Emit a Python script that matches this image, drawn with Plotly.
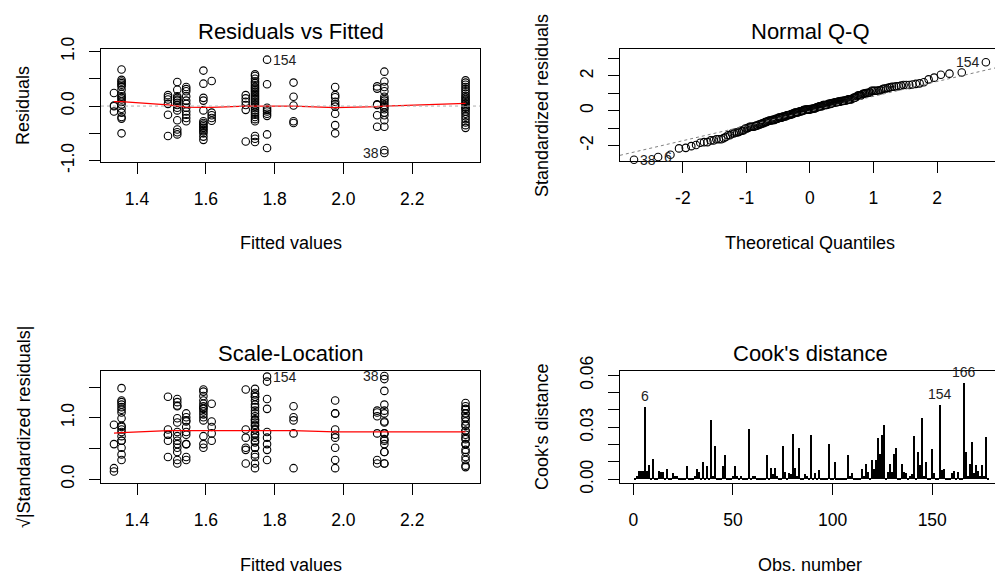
import math
from statistics import NormalDist
import plotly.graph_objects as go

W, H = 995, 575
FONT = "Liberation Sans, Arial, sans-serif"

# ---------------- data ----------------
# fitted value levels (the model has discrete fitted values)
group_fitted = [1.333, 1.355, 1.490, 1.517, 1.543, 1.593, 1.617, 1.716,
                1.743, 1.778, 1.855, 1.976, 2.098, 2.119, 2.355]

res_a = [0.24, 0.01, -0.005, -0.10]
res_b = [0.67, 0.48, 0.45, 0.42, 0.39, 0.36, 0.30, 0.22, 0.18, 0.15, 0.12,
         0.08, 0.03, -0.05, -0.12, -0.20, -0.23, -0.50]
res_c = [0.20, 0.16, 0.12, 0.04, -0.16, -0.55]
res_d = [0.44, 0.30, 0.18, 0.15, 0.12, 0.10, 0.06, 0.02, -0.03, -0.08,
         -0.26, -0.43, -0.48, -0.52]
res_e = [0.35, 0.31, 0.27, 0.18, 0.10, 0.04, -0.03, -0.10, -0.16, -0.22, -0.28]
res_f = [0.65, 0.41, 0.15, 0.10, -0.08, -0.28, -0.31, -0.34, -0.37, -0.40,
         -0.43, -0.46, -0.50, -0.56, -0.62]
res_g = [0.46, -0.12, -0.17, -0.22, -0.27]
res_h = [0.20, 0.14, 0.08, 0.02, -0.07, -0.65]
res_i = [0.58, 0.55, 0.50, 0.45, 0.42, 0.38, 0.35, 0.32, 0.29, 0.26, 0.23,
         0.20, 0.17, 0.14, 0.11, 0.08, 0.05, 0.02, -0.01, -0.04, -0.08,
         -0.12, -0.16, -0.20, -0.24, -0.28, -0.55, -0.60, -0.66]
res_j = [0.85, 0.40, -0.03, -0.07, -0.10, -0.14, -0.18, -0.52, -0.77]
res_k = [0.43, 0.17, 0.01, -0.28, -0.31]
res_l = [0.35, 0.20, 0.16, 0.08, 0.03, -0.01, -0.14, -0.35, -0.50]
res_m = [0.36, 0.32, 0.03, 0.02, -0.17, -0.38]
res_n = [0.63, 0.45, 0.35, 0.27, 0.17, 0.13, 0.10, 0.06, 0.02, -0.02, -0.06,
         -0.12, -0.17, -0.26, -0.38, -0.81, -0.86]
res_o = [0.47, 0.43, 0.39, 0.35, 0.31, 0.27, 0.23, 0.19, 0.16, 0.13, 0.10,
         0.07, 0.04, 0.015, -0.012, -0.03, -0.06, -0.10, -0.14, -0.19,
         -0.24, -0.30, -0.35, -0.40]
group_residuals = [res_a, res_b, res_c, res_d, res_e, res_f, res_g, res_h,
                   res_i, res_j, res_k, res_l, res_m, res_n, res_o]

# labelled points: (label, group index, position in group)
rvf_labels = [("154", 9, 0), ("38", 13, 16)]

sigma_hat = 0.305          # residual scale used for standardising
# smoother (red) values at each fitted level
rvf_smooth = [0.08, 0.08, 0.02, 0.0, -0.02, -0.025, -0.025, 0.0, 0.005,
              0.0, 0.0, -0.03, -0.01, 0.0, 0.05]
sl_smooth = [0.75, 0.76, 0.79, 0.79, 0.79, 0.79, 0.79, 0.79, 0.79, 0.79,
             0.79, 0.77, 0.77, 0.77, 0.77]
qq_line_intercept = -0.02
qq_line_slope = 0.85

cooks_d = [
    0.0005, 0.002, 0.005, 0.005, 0.005, 0.0417, 0.005, 0.0085, 0.001, 0.0115,
    0.001, 0.001, 0.0048, 0.004, 0.0045, 0.001, 0.006, 0.001, 0.0005, 0.0035,
    0.002, 0.002, 0.001, 0.0005, 0.0005, 0.001, 0.0077, 0.001, 0.0005, 0.001,
    0.002, 0.006, 0.004, 0.001, 0.010, 0.001, 0.0077, 0.001, 0.034, 0.002,
    0.019, 0.001, 0.001, 0.0005, 0.0077, 0.0142, 0.001, 0.001, 0.0005, 0.002,
    0.0077, 0.002, 0.001, 0.002, 0.0005, 0.0005, 0.001, 0.0289, 0.0005, 0.002,
    0.002, 0.0005, 0.001, 0.0005, 0.0005, 0.001, 0.0142, 0.001, 0.0068, 0.003,
    0.0068, 0.002, 0.001, 0.0005, 0.019, 0.004, 0.001, 0.0035, 0.003, 0.0263,
    0.0068, 0.002, 0.018, 0.001, 0.001, 0.003, 0.002, 0.001, 0.0257, 0.001,
    0.0035, 0.001, 0.0052, 0.001, 0.001, 0.0005, 0.001, 0.0206, 0.001, 0.0005,
    0.0100, 0.001, 0.001, 0.0005, 0.001, 0.001, 0.0005, 0.0142, 0.002, 0.0035,
    0.001, 0.001, 0.0005, 0.001, 0.006, 0.002, 0.0087, 0.004, 0.001, 0.0113,
    0.006, 0.011, 0.0239, 0.0148, 0.0254, 0.0312, 0.001, 0.004, 0.0087, 0.004,
    0.0148, 0.018, 0.001, 0.001, 0.009, 0.004, 0.0035, 0.001, 0.002, 0.003,
    0.0248, 0.001, 0.0155, 0.008, 0.0356, 0.002, 0.010, 0.001, 0.001, 0.0173,
    0.0035, 0.001, 0.001, 0.0427, 0.0055, 0.006, 0.001, 0.001, 0.0005, 0.0035,
    0.0048, 0.001, 0.004, 0.001, 0.001, 0.0558, 0.0155, 0.002, 0.0087, 0.0215,
    0.0035, 0.0085, 0.0048, 0.002, 0.008, 0.002, 0.0244, 0.001,
]

# ---------------- derived quantities ----------------
fitted, resid = [], []
for f, rs in zip(group_fitted, group_residuals):
    for r in rs:
        fitted.append(f)
        resid.append(r)
n = len(resid)
std_res = [r / sigma_hat for r in resid]
sl_y = [math.sqrt(abs(s)) for s in std_res]
order = sorted(range(n), key=lambda i: std_res[i])
qq_y = [std_res[i] for i in order]
nd = NormalDist()
qq_x = [nd.inv_cdf((k + 0.5) / n) for k in range(n)]
obs = list(range(1, len(cooks_d) + 1))


def px(x):
    return x / W


def py(y):
    return 1 - y / H


# panel boxes in pixels
TL = dict(x0=101, x1=480, y0=49.3, y1=161.7)
TR = dict(x0=620, x1=995, y0=49.3, y1=160.7)
BL = dict(x0=101, x1=480, y0=371, y1=483.3)
BR = dict(x0=620, x1=995, y0=371, y1=483.3)

fig = go.Figure()

marker = dict(symbol="circle-open", size=7.5, color="black", line=dict(width=1.1, color="black"))

# Residuals vs Fitted
fig.add_trace(go.Scatter(x=fitted, y=resid, mode="markers", marker=marker,
                         xaxis="x", yaxis="y", cliponaxis=False, showlegend=False))
fig.add_trace(go.Scatter(x=group_fitted, y=rvf_smooth, mode="lines",
                         line=dict(color="red", width=1.2), xaxis="x", yaxis="y",
                         showlegend=False))
# Normal Q-Q
fig.add_trace(go.Scatter(x=qq_x, y=qq_y, mode="markers", marker=marker,
                         xaxis="x2", yaxis="y2", cliponaxis=False, showlegend=False))
# Scale-Location
fig.add_trace(go.Scatter(x=fitted, y=sl_y, mode="markers", marker=marker,
                         xaxis="x3", yaxis="y3", cliponaxis=False, showlegend=False))
fig.add_trace(go.Scatter(x=group_fitted, y=sl_smooth, mode="lines",
                         line=dict(color="red", width=1.2), xaxis="x3", yaxis="y3",
                         showlegend=False))
# Cook's distance
fig.add_trace(go.Bar(x=obs, y=cooks_d, width=0.6, marker=dict(color="black", line=dict(width=0)),
                     xaxis="x4", yaxis="y4", showlegend=False))

TICK = 17.5
tickfont = dict(family=FONT, size=TICK, color="black")


def xax(box, rng, vals, text):
    return dict(domain=[px(box["x0"]), px(box["x1"])], range=rng, tickvals=vals,
                ticktext=text, showline=True, mirror=True, linecolor="black",
                linewidth=1, ticks="outside", ticklen=11, tickcolor="black",
                tickwidth=1, showgrid=False, zeroline=False, tickfont=tickfont,
                ticklabelstandoff=10, fixedrange=True, automargin=False)


def yax(box, rng, vals, text, mirror=True):
    return dict(domain=[py(box["y1"]), py(box["y0"])], range=rng, tickvals=vals,
                ticktext=text, showline=True, mirror=mirror, linecolor="black",
                linewidth=1, ticks="outside", ticklen=11, tickcolor="black",
                tickwidth=1, showgrid=False, zeroline=False, tickfont=tickfont,
                tickangle=-90, ticklabelstandoff=8, fixedrange=True, automargin=False)


fv_ticks = [1.4, 1.6, 1.8, 2.0, 2.2]
fv_text = ["1.4", "1.6", "1.8", "2.0", "2.2"]

layout = dict(
    template="none",
    width=W, height=H, margin=dict(l=0, r=0, t=0, b=0, pad=0, autoexpand=False),
    paper_bgcolor="white", plot_bgcolor="white",
    font=dict(family=FONT, color="black"),
    bargap=0,
    xaxis=xax(TL, [1.2953, 2.397], fv_ticks, fv_text),
    yaxis=yax(TL, [-1.02, 1.04], [-1, -0.5, 0, 0.5, 1], ["-1.0", "", "0.0", "", "1.0"]),
    xaxis2=xax(TR, [-2.99, 2.913], [-2, -1, 0, 1, 2], ["-2", "-1", "0", "1", "2"]),
    yaxis2=yax(TR, [-2.87, 3.53], [-2, -1, 0, 1, 2, 3], ["-2", "", "0", "", "2", ""], mirror=False),
    xaxis3=xax(BL, [1.2953, 2.397], fv_ticks, fv_text),
    yaxis3=yax(BL, [-0.065, 1.761], [0, 0.5, 1.0, 1.5], ["0.0", "", "1.0", ""]),
    xaxis4=xax(BR, [-6.7, 181.5], [0, 50, 100, 150], ["0", "50", "100", "150"]),
    yaxis4=yax(BR, [-0.0023, 0.0625], [0, 0.01, 0.02, 0.03, 0.04, 0.05, 0.06],
               ["0.00", "", "", "0.03", "", "", "0.06"], mirror=False),
)
layout["xaxis2"]["anchor"] = "y2"
layout["yaxis2"]["anchor"] = "x2"
layout["xaxis3"]["anchor"] = "y3"
layout["yaxis3"]["anchor"] = "x3"
layout["xaxis4"]["anchor"] = "y4"
layout["yaxis4"]["anchor"] = "x4"
fig.update_layout(**layout)

# reference lines
fig.add_shape(type="line", xref="x domain", yref="y", x0=0, x1=1, y0=0, y1=0,
              line=dict(color="#b0b0b0", width=1, dash="dot"))
qx0, qx1 = -2.99, 2.913
fig.add_shape(type="line", xref="x2", yref="y2", x0=qx0, x1=qx1,
              y0=qq_line_intercept + qq_line_slope * qx0,
              y1=qq_line_intercept + qq_line_slope * qx1,
              line=dict(color="#808080", width=1, dash="dot"))

ann = []


def text(x, y, s, size, angle=0):
    ann.append(dict(x=px(x), y=py(y), xref="paper", yref="paper", text=s,
                    showarrow=False, textangle=angle, xanchor="center", yanchor="middle",
                    font=dict(family=FONT, size=size, color="black")))


# titles
text(290.5, 32, "Residuals vs Fitted", 22)
text(810, 32, "Normal Q-Q", 22)
text(290.5, 353, "Scale-Location", 22)
text(810, 353, "Cook's distance", 22)
# axis titles
text(290.5, 243, "Fitted values", 18)
text(810, 243, "Theoretical Quantiles", 18)
text(290.5, 565, "Fitted values", 18)
text(810, 565, "Obs. number", 18)
text(23, 106, "Residuals", 18, -90)
text(542, 106, "Standardized residuals", 18, -90)
text(24, 427, "√|Standardized residuals|", 18, -90)
text(542, 427, "Cook's distance", 18, -90)

lab_font = dict(family=FONT, size=14, color="#222222")
for lab, gi, k in rvf_labels:
    xv = group_fitted[gi]
    rv = group_residuals[gi][k]
    left = xv < sum(fitted) / n
    for xa, ya, yv in (("x", "y", rv), ("x3", "y3", math.sqrt(abs(rv / sigma_hat)))):
        ann.append(dict(x=xv, y=yv, xref=xa, yref=ya, text=lab, showarrow=False,
                        xanchor="left" if left else "right", xshift=4 if left else -3,
                        yanchor="middle", font=lab_font))

# Q-Q labels
ann.append(dict(x=qq_x[-1], y=qq_y[-1], xref="x2", yref="y2", text="154", showarrow=False,
                xanchor="right", xshift=-4, yanchor="middle", font=lab_font))
ann.append(dict(x=qq_x[0], y=qq_y[0], xref="x2", yref="y2", text="38", showarrow=False,
                xanchor="left", xshift=4, yanchor="middle", font=lab_font))
ann.append(dict(x=qq_x[1], y=qq_y[1], xref="x2", yref="y2", text="6", showarrow=False,
                xanchor="left", xshift=4, yanchor="middle", font=lab_font))

# Cook's labels: three largest
top3 = sorted(range(len(cooks_d)), key=lambda i: -cooks_d[i])[:3]
for i in top3:
    ann.append(dict(x=obs[i], y=cooks_d[i], xref="x4", yref="y4", text=str(obs[i]),
                    showarrow=False, xanchor="center", yanchor="middle", yshift=11,
                    font=lab_font))

fig.update_layout(annotations=ann)
fig.write_html("out.html", config={"displayModeBar": False},
               post_script="document.body.style.margin='0';document.body.style.overflow='hidden';")
